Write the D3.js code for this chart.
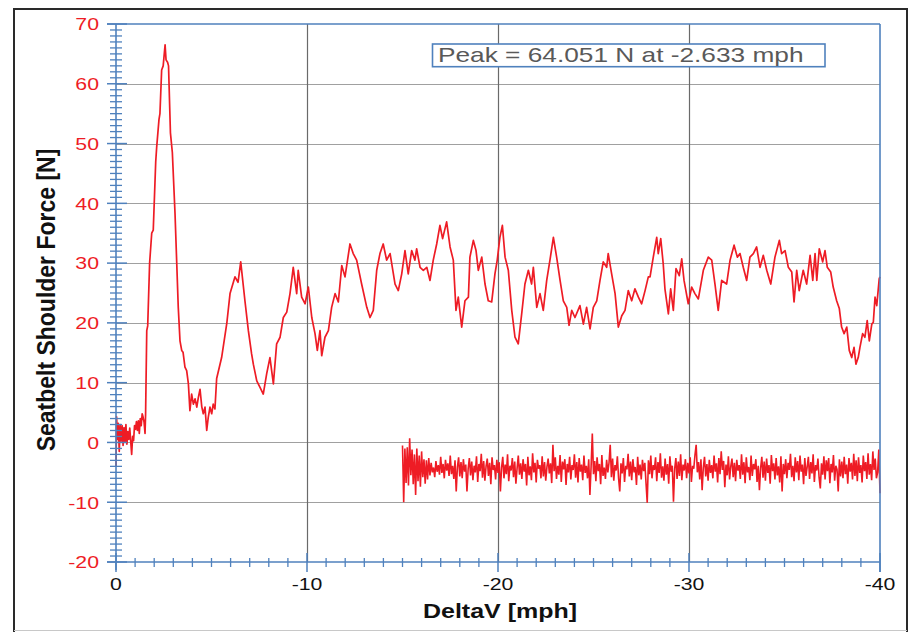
<!DOCTYPE html>
<html><head><meta charset="utf-8">
<script src="https://cdn.jsdelivr.net/npm/d3@7"></script>
<style>html,body{margin:0;padding:0;background:#fff;overflow:hidden}</style>
</head><body>
<svg id="chart" width="912" height="632"></svg>
<script>
// ---------- DATA ----------
const yTicks = [-20, -10, 0, 10, 20, 30, 40, 50, 60, 70];
const yTickLabels = ["-20", "-10", "0", "10", "20", "30", "40", "50", "60", "70"];
const xTicks = [0, -10, -20, -30, -40];
const xTickLabels = ["0", "-10", "-20", "-30", "-40"];
const xTitle = "DeltaV [mph]";
const yTitle = "Seatbelt Shoulder Force [N]";
const annotation = "Peak = 64.051 N at -2.633 mph";

// main series: DeltaV [mph] and force [N]
const shoulderDV = [0,-0.03,-0.08,-0.12,-0.17,-0.22,-0.27,-0.32,-0.37,-0.42,-0.47,-0.52,-0.57,-0.62,-0.67,-0.72,-0.77,-0.82,-0.87,-0.92,-0.97,-1.02,-1.07,-1.12,-1.17,-1.22,-1.27,-1.32,-1.37,-1.42,-1.47,
-1.52,-1.55,-1.61,-1.66,-1.76,-1.87,-1.95,-2.08,-2.13,-2.25,-2.30,-2.39,-2.47,-2.57,-2.62,-2.70,-2.75,-2.85,-2.95,-3.09,-3.18,-3.26,-3.35,-3.44,-3.51,-3.61,-3.70,-3.79,
-3.87,-3.96,-4.05,-4.14,-4.23,-4.31,-4.40,-4.49,-4.57,-4.66,-4.75,-4.83,-4.92,-5.01,-5.09,-5.18,-5.27,
-5.53,-5.80,-5.97,-6.23,-6.39,-6.53,-6.75,-6.93,-7.10,-7.19,-7.37,-7.54,-7.71,-7.89,-8.06,-8.24,-8.41,-8.59,-8.76,-8.94,-9.11,-9.28,-9.46,-9.54,-9.72,-9.90,
-10.07,-10.25,-10.42,-10.54,-10.68,-10.77,-10.94,-11.12,-11.29,-11.47,-11.64,-11.82,-11.99,-12.25,-12.42,-12.60,-12.86,-13.13,-13.30,-13.47,-13.65,-13.82,-13.99,
-14.17,-14.35,-14.61,-14.78,-14.96,-15.13,-15.30,-15.48,-15.65,-15.74,-15.92,-16.09,-16.27,-16.44,-16.61,-16.79,-16.96,-17.10,-17.31,-17.49,-17.66,-17.80,-17.92,
-18.10,-18.27,-18.45,-18.53,-18.71,-18.85,-18.97,-19.15,-19.32,-19.49,-19.67,-19.84,-19.96,-20.10,-20.23,-20.37,-20.54,-20.72,-20.89,-21.06,-21.24,-21.41,-21.59,
-21.76,-21.85,-22.03,-22.20,-22.37,-22.55,-22.72,-22.90,-23.07,-23.25,-23.42,-23.60,-23.72,-23.86,-24.03,-24.29,-24.47,-24.64,-24.82,-24.99,-25.17,-25.34,-25.51,
-25.69,-25.77,-25.95,-26.13,-26.30,-26.48,-26.65,-26.82,-27.00,-27.17,-27.35,-27.52,-27.70,-27.87,-27.96,-28.13,-28.31,-28.39,-28.52,-28.65,-28.74,-28.92,-29.04,
-29.18,-29.32,-29.49,-29.62,-29.74,-29.96,-30.14,-30.31,-30.49,-30.75,-31.01,-31.19,-31.36,-31.53,-31.71,-31.97,-32.15,-32.36,-32.53,-32.67,-32.84,-33.02,-33.19,
-33.37,-33.54,-33.72,-33.89,-34.07,-34.28,-34.50,-34.73,-34.85,-35.03,-35.20,-35.38,-35.50,-35.64,-35.77,-35.98,-36.16,-36.34,-36.48,-36.60,-36.69,-36.82,-37.00,
-37.12,-37.24,-37.42,-37.55,-37.73,-37.87,-37.99,-38.12,-38.26,-38.39,-38.52,-38.64,-38.74,-38.86,-38.95,-39.09,-39.21,-39.33,-39.44,-39.57,-39.65,-39.74,-39.83,-39.96,-40];
const shoulderForce = [-4,4.3,0.5,3.2,-1.5,3.0,0.2,2.8,-0.5,2.5,0.0,3.0,-0.3,1.8,0.5,2.4,0.2,-2.0,1.0,0.3,2.8,2.2,3.5,2.0,3.6,1.5,4.0,2.8,4.8,4.2,3.4,
1.5,4.8,18.7,19.5,30,35,35.5,47,49.4,54,55,62.3,63,66.5,64.0,63.6,63.0,51.8,48.5,38.3,30,22.6,17,15.4,15.1,12.6,12.0,9.8,
5.3,8.1,6.4,7.3,5.9,7.5,8.9,6.0,4.8,5.9,2.0,4.2,5.9,4.8,6.4,5.6,10.7,
14.2,19.9,24.9,27.7,26.8,30.2,23.7,18.7,14.8,13.1,10.3,9.2,8.1,11.5,14.2,9.8,16.5,17.6,20.9,21.8,24.9,29.3,24.9,28.8,24.3,23.2,
26,20.9,18.2,15.4,18.7,14.5,17.6,18.7,22.6,24.9,23.5,29.6,27.7,33.2,31.6,30.5,26.5,22.6,20.9,22.1,28.8,31.6,33.2,
30.5,31.6,26.5,25.4,28.2,32.1,28.2,32.1,30.5,32.4,29.3,28.8,29.3,27.1,30.5,33.2,36.3,34.1,36.9,32.7,30.5,22.1,24.3,
19.3,23.7,24.3,31,33.8,32.1,28.8,31,26.5,23.7,23.5,28.2,30.5,34.3,36.3,31,28.8,22.1,17.6,16.5,21.5,26.5,28.8,
26.5,29.3,22.6,24.9,22.1,27.1,30.5,34.3,31,27.1,23.7,22.6,19.6,22.1,20.9,22.9,19.8,22.6,19,22.6,23.7,27.1,30.2,
29.3,31.6,28.2,24.9,19.3,21.2,22.1,25.4,23.7,25.7,24.3,23.2,25.4,27.7,27.7,31,34.3,31.6,34.1,29.9,25.7,21.5,25.7,
22.1,29.1,27.9,30.7,27.1,23.2,26,24.9,24,28.8,31,30.5,26.5,22.1,27.1,26.5,30.5,33,31,31.6,29.3,27.1,31,
31.6,32.7,29.3,31.3,28.8,26.5,31,33.8,31.6,32.1,29.3,28.5,23.5,28.8,25.4,28.8,26.5,31.3,27.1,31.6,27.1,32.4,30.2,
32.1,29.3,28.5,26,23.7,22.4,19.3,18.2,19.3,15.4,14.2,15.9,13.1,14.2,15.9,18.2,17.6,20.4,17,19.8,20.1,24.3,22.9,27.4,27.7];

// second (noise) series, sampled evenly from noiseStartDV to noiseEndDV
const noiseStartDV = -15;
const noiseEndDV = -40;
const noiseForce = [
-0.5,-10.0,-1.0,-6.8,-0.8,-7.2,0.7,-5.5,-1.2,-7.0,-2.0,-8.8,-1.0,-6.5,-2.2,-7.4,-1.5,-5.8,-2.8,-6.9,
-3.0,-6.2,-2.6,-5.5,-3.4,-5.0,-4.2,-5.8,-3.1,-4.9,-3.8,-5.4,-2.4,-5.1,-3.6,-6.0,-2.9,-4.7,-3.5,-5.6,
-2.2,-5.3,-3.9,-6.1,-3.0,-8.2,-4.1,-2.5,-5.7,-3.3,-6.0,-2.8,-4.9,-3.7,-8.2,-4.4,-2.6,-5.5,-3.2,-6.3,
-3.9,-5.0,-2.3,-6.6,-3.6,-4.8,-1.9,-5.9,-3.1,-6.4,-4.0,-2.7,-5.6,-3.4,-7.0,-2.5,-4.6,-3.8,-6.2,-2.9,
-5.1,-3.3,-8.2,-4.2,-2.4,-6.0,-3.7,-5.3,-2.0,-6.5,-3.9,-4.7,-2.6,-5.8,-3.2,-6.9,-4.3,-2.2,-5.4,-3.5,
-6.1,-2.8,-4.9,-3.6,-7.2,-2.4,-5.5,-4.0,-6.3,-1.8,-5.0,-3.4,-6.7,-2.9,-4.4,-3.8,-6.0,-2.3,-5.7,-3.3,
-6.4,-4.1,-2.7,-5.2,-3.5,-6.8,-0.4,-4.8,-2.5,-6.1,-3.9,-5.4,-2.1,-6.6,-3.2,-4.5,-2.8,-7.1,-3.6,-5.0,
-2.4,-6.2,-3.8,-4.6,-2.0,-5.9,-3.3,-6.7,-2.6,-4.9,-3.7,-6.3,-2.2,-5.1,-3.9,-6.0,-2.8,-8.8,-4.0,1.5,
-5.3,-3.1,-6.5,-2.5,-4.8,-3.6,-7.0,-2.1,-5.6,-4.2,-6.1,-2.9,-5.0,-3.4,-0.4,-5.8,-2.7,-6.4,-3.8,-4.7,
-2.3,-6.0,-8.2,-3.5,-5.2,-2.6,-6.6,-3.9,-4.5,-1.9,-5.7,-3.2,-6.3,-2.8,-5.0,-4.1,-7.1,-2.4,-5.5,-3.7,
-6.2,-2.9,-4.8,-3.4,-6.8,-10.1,-3.0,-5.3,-2.2,-6.0,-3.8,-4.6,-2.5,-6.5,-3.3,-5.1,-1.8,-5.9,-4.0,-6.4,
-2.7,-5.4,-3.6,-6.9,-2.3,-4.9,-3.9,-9.9,-4.4,-2.6,-6.1,-3.2,-5.6,-2.0,-6.3,-3.7,-4.7,-2.8,-6.0,-3.4,
-5.2,-2.5,-6.6,-3.9,-4.4,-2.1,-0.4,-5.0,-3.3,-6.2,-2.8,-8.0,-4.2,-2.4,-5.7,-3.6,-6.4,-2.9,-5.1,-3.8,
-6.0,-2.2,-4.9,-3.5,-6.7,-2.6,-5.3,-1.5,-4.6,-3.1,-7.5,-3.7,-5.5,-2.3,-6.2,-4.0,-2.7,-5.8,-3.4,-6.5,
-2.9,-4.7,-3.8,-6.1,-2.0,-5.4,-3.3,-6.8,-2.5,-5.0,-4.1,-6.3,-2.2,-5.6,-3.6,-4.5,-2.8,-6.6,-3.9,-8.0,
-4.3,-2.4,-5.9,-3.2,-6.4,-2.7,-5.1,-3.8,-6.9,-2.1,-4.8,-3.5,-6.2,-2.6,-5.5,-4.0,-6.7,-2.3,-8.2,-3.6,
-5.3,-2.8,-6.0,-3.4,-4.6,-1.9,-5.8,-3.9,-6.5,-2.5,-5.0,-3.1,-6.3,-2.2,-4.9,-3.7,-7.0,-2.6,-5.6,-4.1,
-2.4,-6.1,-3.3,-5.2,-2.0,-6.6,-3.8,-4.7,-2.7,-5.9,-7.7,-3.5,-5.4,-2.3,-6.2,-3.0,-4.8,-2.6,-6.8,-3.6,
-5.0,-2.1,-6.4,-3.9,-4.5,-8.2,-2.8,-5.7,-3.2,-6.0,-2.4,-5.3,-3.7,-6.9,-2.6,-4.9,-3.4,-6.2,-1.9,-5.6,
-3.0,-6.5,-2.5,-5.1,-3.8,-6.7,-2.2,-4.8,-3.3,-6.1,-1.8,-5.4,-3.6,-6.3,-1.5,-4.6,-2.7,-6.0,-5.0,-1.2,
-8.5];

// ---------- CHART ----------
const svg = d3.select("#chart");
const FONT = "'Liberation Sans', Arial, Helvetica, sans-serif";
const BLUE = "#4f81bd";
const RED = "#ee1c25";
const STRETCH = 1.25;

const x = d3.scaleLinear().domain([0, -40]).range([116, 880]);
const y = d3.scaleLinear().domain([-20, 70]).range([562, 24]);
const X0 = x(0), X1 = x(-40), Y0 = y(-20), Y1 = y(70);

// outer frame
svg.append("path").attr("d", "M14,632V9H907V632").attr("fill", "none")
  .attr("stroke", "#2a2a2a").attr("stroke-width", 2);
svg.append("line").attr("x1", 14).attr("x2", 907).attr("y1", 630.5).attr("y2", 630.5)
  .attr("stroke", "#c8c8c8").attr("stroke-width", 1);

// grid
const g = svg.append("g");
g.selectAll("line.hg").data(yTicks.filter(v => v > -20 && v < 70)).enter().append("line")
  .attr("x1", X0).attr("x2", X1)
  .attr("y1", d => Math.round(y(d)) + 0.5).attr("y2", d => Math.round(y(d)) + 0.5)
  .attr("stroke", "#a0a0a0").attr("stroke-width", 1.2);
g.selectAll("line.vg").data(xTicks.filter(v => v < 0 && v > -40)).enter().append("line")
  .attr("y1", Y1).attr("y2", Y0)
  .attr("x1", d => Math.round(x(d)) + 0.5).attr("x2", d => Math.round(x(d)) + 0.5)
  .attr("stroke", "#6a6a6a").attr("stroke-width", 1.2);

// data lines
const line = d3.line().x(d => x(d[0])).y(d => y(d[1]));
const mainData = shoulderDV.map((v, i) => [v, shoulderForce[i]]);
const nStep = (noiseEndDV - noiseStartDV) / (noiseForce.length - 1);
const noiseData = noiseForce.map((f, i) => [noiseStartDV + i * nStep, f]);

svg.append("path").datum(noiseData).attr("d", line).attr("fill", "none")
  .attr("stroke", RED).attr("stroke-width", 1.6).attr("stroke-linejoin", "miter");
svg.append("path").datum(mainData).attr("d", line).attr("fill", "none")
  .attr("stroke", RED).attr("stroke-width", 1.7).attr("stroke-linejoin", "round");

// axes frame (blue)
const ax = svg.append("g").attr("stroke", BLUE).attr("fill", "none");
ax.append("line").attr("x1", X0).attr("x2", X0).attr("y1", Y1).attr("y2", Y0 + 8).attr("stroke-width", 1.6);
ax.append("line").attr("x1", X0 - 9).attr("x2", X1).attr("y1", Y0).attr("y2", Y0).attr("stroke-width", 1.6);
ax.append("line").attr("x1", X0 - 9).attr("x2", X1).attr("y1", Y1).attr("y2", Y1).attr("stroke-width", 1.6);
ax.append("line").attr("x1", X1).attr("x2", X1).attr("y1", Y1).attr("y2", Y0 + 10).attr("stroke-width", 1.6);

// y minor & major ticks
const yMinor = d3.range(-20, 71, 1).filter(v => v % 10 !== 0);
ax.selectAll("line.ym").data(yMinor).enter().append("line")
  .attr("x1", X0 - 6).attr("x2", X0 + 6).attr("y1", d => y(d)).attr("y2", d => y(d)).attr("stroke-width", 1.3);
ax.selectAll("line.yM").data(yTicks).enter().append("line")
  .attr("x1", X0 - 9).attr("x2", X0 + 11).attr("y1", d => y(d)).attr("y2", d => y(d)).attr("stroke-width", 1.5);
// x minor & major ticks
const xMinor = d3.range(0, -41, -1).filter(v => v % 10 !== 0);
ax.selectAll("line.xm").data(xMinor).enter().append("line")
  .attr("y1", Y0 - 4).attr("y2", Y0 + 5).attr("x1", d => x(d)).attr("x2", d => x(d)).attr("stroke-width", 1.3);
ax.selectAll("line.xM").data(xTicks).enter().append("line")
  .attr("y1", Y0 - 9).attr("y2", Y0 + 10).attr("x1", d => x(d)).attr("x2", d => x(d)).attr("stroke-width", 1.5);

// tick labels
svg.selectAll("text.yl").data(yTicks).enter().append("text")
  .attr("transform", d => `translate(99,${y(d) + 6.3}) scale(${STRETCH},1)`)
  .attr("text-anchor", "end").attr("font-family", FONT).attr("font-size", 17)
  .attr("fill", RED).text((d, i) => yTickLabels[i]);
svg.selectAll("text.xl").data(xTicks).enter().append("text")
  .attr("transform", d => `translate(${x(d)},590) scale(${STRETCH},1)`)
  .attr("text-anchor", "middle").attr("font-family", FONT).attr("font-size", 17)
  .attr("fill", "#111").text((d, i) => xTickLabels[i]);

// axis titles
svg.append("text").attr("transform", `translate(500,617.5) scale(${STRETCH},1)`)
  .attr("text-anchor", "middle").attr("font-family", FONT).attr("font-size", 20)
  .attr("font-weight", "bold").attr("fill", "#111").text(xTitle);
svg.append("text").attr("transform", `translate(55,300) scale(1.12,1) rotate(-90)`)
  .attr("text-anchor", "middle").attr("font-family", FONT).attr("font-size", 23)
  .attr("font-weight", "bold").attr("fill", "#111").text(yTitle);

// annotation box
svg.append("rect").attr("x", 432.5).attr("y", 44).attr("width", 392.5).attr("height", 22.7)
  .attr("fill", "#fff").attr("stroke", BLUE).attr("stroke-width", 1.6);
svg.append("text").attr("transform", `translate(438,61.7) scale(${STRETCH},1)`)
  .attr("font-family", FONT).attr("font-size", 21).attr("fill", "#595959").text(annotation);
</script>
</body></html>
